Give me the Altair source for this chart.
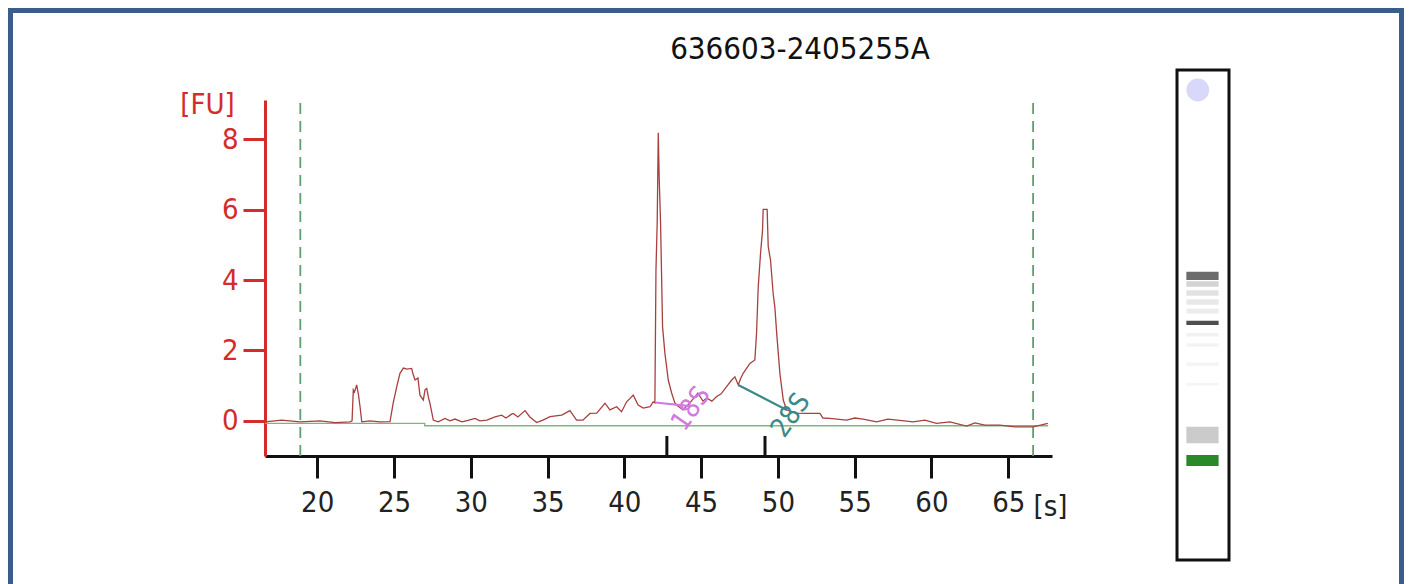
import altair as alt
import pandas as pd

# ---------------- data ----------------
title_text = "636603-2405255A"

trace_s = [16.60, 17.69, 18.88, 20.18, 21.16, 22.14, 22.27, 22.35, 22.43, 22.57, 22.69, 22.79, 22.90,
           23.44, 24.09, 24.74, 24.95, 25.18, 25.39, 25.61, 25.85, 26.15, 26.24, 26.37, 26.56, 26.69,
           26.91, 27.02, 27.13, 27.25, 27.34, 27.56, 27.88, 28.32, 28.65, 28.97, 29.43, 29.82, 30.27,
           30.60, 31.05, 31.58, 32.01, 32.29, 32.66, 32.77, 33.07, 33.53, 33.85, 34.29, 34.70, 35.16,
           35.92, 36.46, 36.89, 37.30, 37.76, 38.20, 38.74, 39.06, 39.50, 39.82, 40.15, 40.58, 40.90,
           41.23, 41.67, 41.88, 41.99, 42.06, 42.14, 42.21, 42.27, 42.36, 42.49, 42.64, 42.86, 43.08,
           43.29, 43.40, 43.82, 44.27, 44.79, 45.12, 45.36, 45.70, 46.01, 46.29, 46.66, 46.99, 47.20,
           47.42, 47.56, 47.74, 47.96, 48.18, 48.50, 48.61, 48.72, 48.87, 49.00, 49.04, 49.30, 49.37,
           49.52, 49.69, 49.80, 49.92, 50.13, 50.35, 50.57, 51.22, 51.76, 52.74, 52.93, 53.39, 54.47,
           55.01, 55.55, 56.43, 57.16, 57.94, 58.81, 59.57, 60.33, 61.20, 62.29, 62.83, 63.48, 64.45,
           65.43, 66.62, 67.58]
trace_fu = [-0.03, 0.02, -0.03, 0.00, -0.05, -0.03, 0.00, 0.88, 0.82, 1.02, 0.73, 0.40, -0.03,
            0.00, -0.03, -0.02, 0.51, 0.97, 1.35, 1.50, 1.47, 1.49, 1.33, 1.16, 1.22, 0.73,
            0.59, 0.88, 0.92, 0.65, 0.50, 0.02, -0.03, 0.07, 0.00, 0.05, -0.03, 0.01, 0.07,
            0.00, 0.02, 0.11, 0.16, 0.08, 0.19, 0.21, 0.11, 0.29, 0.11, -0.05, 0.02, 0.12,
            0.16, 0.29, 0.02, 0.02, 0.21, 0.22, 0.50, 0.31, 0.40, 0.26, 0.54, 0.73, 0.45,
            0.36, 0.40, 0.54, 0.51, 4.29, 5.62, 8.19, 6.90, 5.62, 2.67, 1.93, 1.16, 0.79,
            0.51, 0.45, 0.31, 0.51, 0.79, 0.56, 0.65, 0.56, 0.69, 0.76, 0.97, 1.16, 1.25,
            1.02, 1.19, 1.35, 1.49, 1.63, 1.73, 2.49, 3.81, 4.76, 5.42, 6.01, 6.01, 4.95,
            4.57, 3.62, 3.24, 2.50, 1.35, 0.59, 0.31, 0.22, 0.21, 0.21, 0.08, 0.07, 0.02,
            0.08, 0.05, -0.03, 0.05, 0.01, -0.03, 0.02, -0.07, -0.03, -0.15, -0.06, -0.12, -0.12,
            -0.17, -0.17, -0.07]

baseline_s = [16.60, 27.00, 27.00, 67.60]
baseline_fu = [-0.07, -0.07, -0.14, -0.14]

window_s = [18.90, 66.62]          # dashed green limits
peak_tick_s = [42.77, 49.16]       # peak markers on the time axis

seg18_s = [42.00, 44.30]
seg18_fu = [0.52, 0.42]
seg28_s = [47.42, 50.57]
seg28_fu = [1.02, 0.31]

frag_labels = ["18S", "28S"]
frag_s = [44.35, 50.86]
frag_fu = [0.34, 0.15]
frag_colors = ["#d27ae0", "#3d8888"]

x_ticks = [20, 25, 30, 35, 40, 45, 50, 55, 60, 65]
y_ticks = [0, 2, 4, 6, 8]

# gel lane (positions in lane time units)
band_top = [49.78, 48.40, 47.10, 45.80, 44.40, 42.68, 40.90, 39.40, 36.60, 33.70, 27.32, 23.22]
band_bot = [48.58, 47.60, 46.30, 45.00, 43.70, 42.06, 40.40, 38.90, 36.10, 33.30, 24.91, 21.62]
band_col = ["#6c6c6c", "#d4d4d4", "#e2e2e2", "#e8e8e8", "#ececec", "#4e4e4e", "#f1f1f1",
            "#f3f3f3", "#f4f4f4", "#f5f5f5", "#cbcbcb", "#2a8a2a"]
blob_pos = [0.40, 76.1]

# ---------------- chart ----------------
FONT = "DejaVu Sans Condensed, Open Sans, sans-serif"
RED = "#d42b2b"
W, H = 1396, 600

xs = alt.Scale(domain=[16.6, 67.85], range=[257, 1044], nice=False, zero=False)
ys = alt.Scale(domain=[-1.0, 9.12], range=[448, 92], nice=False, zero=False)

xax = alt.Axis(values=x_ticks, offset=-(H - 448), domainColor="#111111", domainWidth=3,
               tickColor="#111111", tickWidth=3, tickSize=22, labelFont=FONT, labelFontSize=29,
               labelColor="#222222", labelPadding=10, grid=False, labelFlush=False,
               title="[s]", titleFont=FONT, titleFontSize=29, titleFontWeight="normal",
               titleColor="#222222", titleAngle=0, titleAlign="center", titleBaseline="middle",
               titleX=1042, titleY=50)
yax = alt.Axis(values=y_ticks, offset=-257, domainColor=RED, domainWidth=3, tickColor=RED,
               tickWidth=3, tickSize=22, labelFont=FONT, labelFontSize=29, labelColor=RED,
               labelPadding=5, grid=False, title="[FU]", titleFont=FONT, titleFontSize=29,
               titleFontWeight="normal", titleColor=RED, titleAngle=0, titleAlign="center",
               titleBaseline="middle", titleX=-58, titleY=96)

trace_df = pd.DataFrame({"s": trace_s, "fu": trace_fu, "i": range(len(trace_s))})
base_df = pd.DataFrame({"s": baseline_s, "fu": baseline_fu, "i": range(len(baseline_s))})
win_df = pd.DataFrame({"s": window_s, "lo": [-1.0] * 2, "hi": [9.12] * 2})
pk_df = pd.DataFrame({"s": peak_tick_s, "lo": [-1.0] * 2, "hi": [-0.43] * 2})
seg_df = pd.DataFrame({"s": seg18_s + seg28_s, "fu": seg18_fu + seg28_fu,
                       "g": ["18S", "18S", "28S", "28S"], "c": [frag_colors[0]] * 2 + [frag_colors[1]] * 2,
                       "i": [0, 1, 0, 1]})
lab_df = pd.DataFrame({"s": frag_s, "fu": frag_fu, "t": frag_labels, "c": frag_colors})

base = alt.Chart(base_df).mark_line(color="#7fb37f", strokeWidth=1.3).encode(
    x=alt.X("s:Q", scale=xs, axis=xax), y=alt.Y("fu:Q", scale=ys, axis=yax), order="i:Q")
win = alt.Chart(win_df).mark_rule(color="#5f9f6f", strokeWidth=1.8, strokeDash=[11, 7]).encode(
    x=alt.X("s:Q", scale=xs, axis=xax), y=alt.Y("lo:Q", scale=ys, axis=yax), y2="hi:Q")
trace = alt.Chart(trace_df).mark_line(color="#a8403f", strokeWidth=1.3).encode(
    x=alt.X("s:Q", scale=xs, axis=xax), y=alt.Y("fu:Q", scale=ys, axis=yax), order="i:Q")
segs = alt.Chart(seg_df).mark_line(strokeWidth=2.2).encode(
    x=alt.X("s:Q", scale=xs, axis=xax), y=alt.Y("fu:Q", scale=ys, axis=yax),
    detail="g:N", color=alt.Color("c:N", scale=None), order="i:Q")
labs = alt.Chart(lab_df).mark_text(angle=305, font=FONT, fontSize=27, align="center",
                                   baseline="middle").encode(
    x=alt.X("s:Q", scale=xs, axis=xax), y=alt.Y("fu:Q", scale=ys, axis=yax),
    text="t:N", color=alt.Color("c:N", scale=None))
pk = alt.Chart(pk_df).mark_rule(color="#111111", strokeWidth=3).encode(
    x=alt.X("s:Q", scale=xs, axis=xax), y=alt.Y("lo:Q", scale=ys, axis=yax), y2="hi:Q")
ttl = alt.Chart(pd.DataFrame({"t": [title_text]})).mark_text(
    font=FONT, fontSize=31, color="#111111", align="center", baseline="middle").encode(
    x=alt.value(792), y=alt.value(42), text="t:N")

trace_group = alt.layer(base, win, trace, segs, labs, pk, ttl)

lx = alt.Scale(domain=[0, 1], range=[1169, 1221], nice=False, zero=False)
ly = alt.Scale(domain=[8, 79], range=[552, 62], nice=False, zero=False)

box_df = pd.DataFrame({"x0": [0], "x1": [1], "y0": [8], "y1": [79]})
band_df = pd.DataFrame({"x0": [0.18] * len(band_top), "x1": [0.80] * len(band_top),
                        "top": band_top, "bot": band_bot, "c": band_col})
blob_df = pd.DataFrame({"x": [blob_pos[0]], "y": [blob_pos[1]]})

box = alt.Chart(box_df).mark_rect(fill="white", stroke="#111111", strokeWidth=3).encode(
    x=alt.X("x0:Q", scale=lx, axis=None), x2="x1:Q",
    y=alt.Y("y0:Q", scale=ly, axis=None), y2="y1:Q")
bands = alt.Chart(band_df).mark_rect().encode(
    x=alt.X("x0:Q", scale=lx, axis=None), x2="x1:Q",
    y=alt.Y("bot:Q", scale=ly, axis=None), y2="top:Q",
    color=alt.Color("c:N", scale=None))
blob = alt.Chart(blob_df).mark_point(filled=True, shape="circle", size=520, color="#d8d8fa",
                                     opacity=1).encode(
    x=alt.X("x:Q", scale=lx, axis=None), y=alt.Y("y:Q", scale=ly, axis=None))

lane_group = alt.layer(box, bands, blob)

chart = alt.layer(trace_group, lane_group).resolve_scale(
    x="independent", y="independent"
).properties(
    width=W, height=H, padding=0, autosize=alt.AutoSizeParams(type="none"),
    background="white"
).configure_view(stroke="#3a5d8c", strokeWidth=10)

chart.save("out.html", embed_options={"renderer": "svg", "actions": False})
